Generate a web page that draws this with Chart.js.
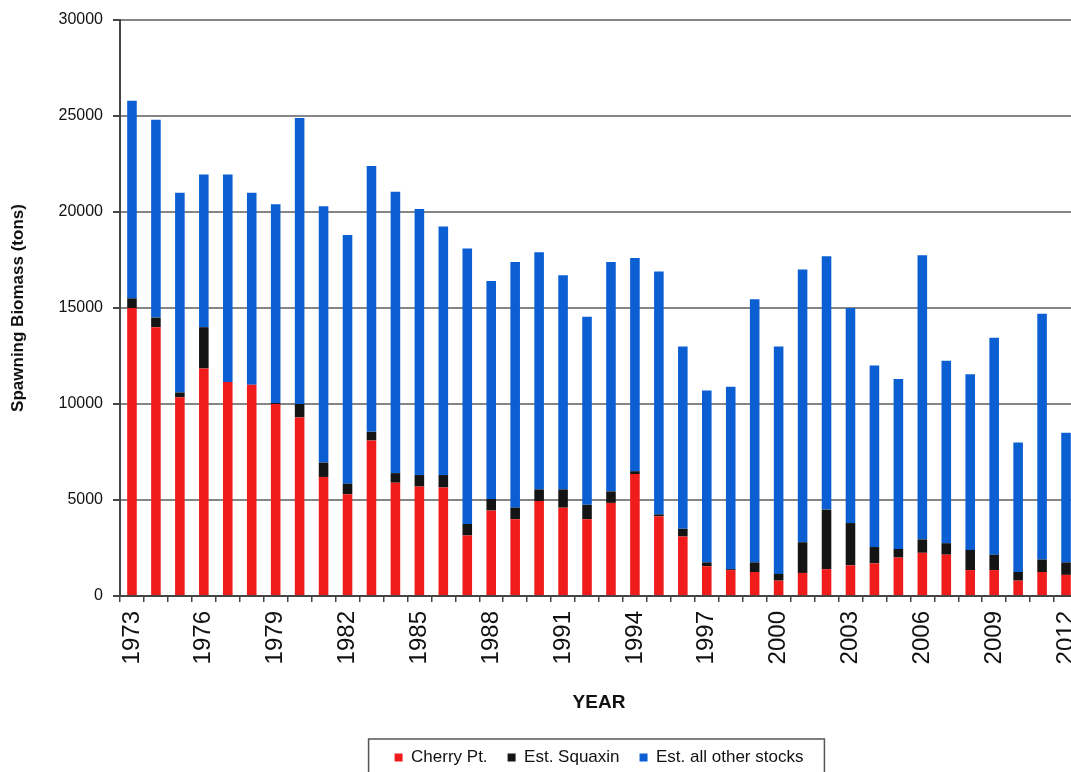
<!DOCTYPE html>
<html>
<head>
<meta charset="utf-8">
<title>Spawning Biomass</title>
<script src="https://cdn.jsdelivr.net/npm/chart.js@4/dist/chart.umd.min.js"></script>
<style>
  html, body { margin: 0; padding: 0; background: #fff; overflow: hidden; }
  canvas { display: block; }
</style>
</head>
<body>
<canvas id="biomassChart" width="1080" height="772"></canvas>
<script>
// Spawning biomass by year
const years = ['1973', '1974', '1975', '1976', '1977', '1978', '1979', '1980', '1981', '1982',
               '1983', '1984', '1985', '1986', '1987', '1988', '1989', '1990', '1991', '1992',
               '1993', '1994', '1995', '1996', '1997', '1998', '1999', '2000', '2001', '2002',
               '2003', '2004', '2005', '2006', '2007', '2008', '2009', '2010', '2011', '2012'];

const cherryPt = [15000, 14000, 10350, 11850, 11150, 11000, 10000, 9300, 6200, 5300,
                  8100, 5900, 5700, 5650, 3150, 4450, 4000, 4950, 4600, 4000,
                  4850, 6350, 4150, 3100, 1550, 1350, 1250, 800, 1200, 1400,
                  1600, 1700, 2000, 2250, 2150, 1350, 1350, 800, 1250, 1100];

const squaxin = [500, 500, 250, 2150, 0, 0, 50, 700, 750, 550,
                 450, 500, 600, 650, 600, 600, 600, 600, 950, 750,
                 600, 150, 100, 400, 200, 50, 500, 350, 1600, 3100,
                 2200, 850, 450, 700, 600, 1050, 800, 450, 650, 650];

const otherStocks = [10300, 10300, 10400, 7950, 10800, 10000, 10350, 14900, 13350, 12950,
                     13850, 14650, 13850, 12950, 14350, 11350, 12800, 12350, 11150, 9800,
                     11950, 11100, 12650, 9500, 8950, 9500, 13700, 11850, 14200, 13200,
                     11200, 9450, 8850, 14800, 9500, 9150, 11300, 6750, 12800, 6750];

const yTicks = [0, 5000, 10000, 15000, 20000, 25000, 30000];

Chart.defaults.font.family = '"Liberation Sans", Arial, sans-serif';
Chart.defaults.color = '#111';

// box drawn round the legend, like the spreadsheet original
const legendFrame = {
    id: 'legendFrame',
    afterDraw(chart) {
        const boxes = chart.legend.legendHitBoxes;
        if (!boxes || !boxes.length) return;
        const first = boxes[0];
        const last = boxes[boxes.length - 1];
        const left = first.left - 26;
        const right = last.left + last.width + 21;
        const ctx = chart.ctx;
        ctx.save();
        ctx.strokeStyle = '#555';
        ctx.lineWidth = 1.5;
        ctx.strokeRect(left, 739, right - left, 60);
        ctx.restore();
    }
};

const ctx = document.getElementById('biomassChart');
new Chart(ctx, {
    type: 'bar',
    data: {
        labels: years,
        datasets: [
            {
                label: 'Cherry Pt.',
                data: cherryPt,
                backgroundColor: '#f01c1c'
            },
            {
                label: 'Est. Squaxin',
                data: squaxin,
                backgroundColor: '#141414'
            },
            {
                label: 'Est. all other stocks',
                data: otherStocks,
                backgroundColor: '#0b5fd3'
            }
        ]
    },
    options: {
        responsive: false,
        animation: false,
        barPercentage: 0.4,
        categoryPercentage: 1.0,
        layout: {
            padding: { top: 20, left: 0, right: 2, bottom: -4 }
        },
        plugins: {
            legend: {
                position: 'bottom',
                fullSize: false,
                labels: {
                    boxWidth: 8,
                    boxHeight: 8,
                    padding: 20,
                    color: '#111',
                    font: { size: 17 }
                }
            },
            tooltip: { enabled: false }
        },
        scales: {
            x: {
                stacked: true,
                afterFit: function(scale) {
                    scale.height = 133;
                    scale.paddingLeft = 0;
                    scale.paddingRight = 0;
                },
                border: { display: true, color: '#444', width: 2 },
                grid: {
                    offset: true,
                    drawOnChartArea: false,
                    drawTicks: true,
                    tickLength: 6,
                    tickColor: '#444',
                    lineWidth: 1.5
                },
                ticks: {
                    autoSkip: false,
                    minRotation: 90,
                    maxRotation: 90,
                    padding: 9,
                    color: '#111',
                    font: { size: 24 },
                    callback: function(value, index) {
                        return index % 3 === 0 ? this.getLabelForValue(value) : '';
                    }
                },
                title: {
                    display: true,
                    text: 'YEAR',
                    color: '#111',
                    font: { size: 19, weight: 'bold' },
                    padding: { top: 4, bottom: 15 }
                }
            },
            y: {
                stacked: true,
                min: 0,
                max: 30000,
                afterFit: function(scale) { scale.width = 120; },
                afterBuildTicks: function(scale) {
                    scale.ticks = yTicks.map(v => ({ value: v }));
                },
                border: { display: true, color: '#444', width: 2 },
                grid: {
                    color: '#858585',
                    lineWidth: 2,
                    tickLength: 7,
                    tickColor: '#444'
                },
                ticks: {
                    padding: 10,
                    color: '#111',
                    font: { size: 16 },
                    callback: function(value) { return String(value); }
                },
                title: {
                    display: true,
                    text: 'Spawning Biomass (tons)',
                    color: '#111',
                    font: { size: 17, weight: 'bold' },
                    padding: { top: 8, bottom: 0 }
                }
            }
        }
    },
    plugins: [legendFrame]
});
</script>
</body>
</html>
